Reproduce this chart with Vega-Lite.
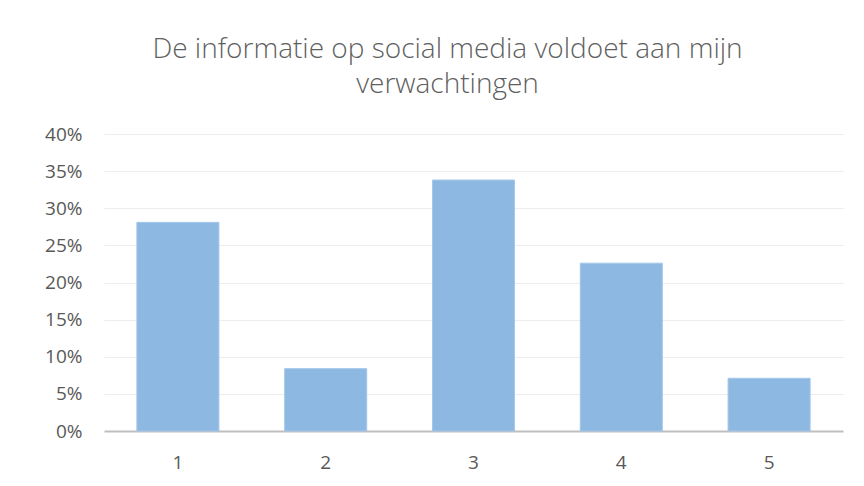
{
  "$schema": "https://vega.github.io/schema/vega-lite/v6.json",
  "width": 739,
  "height": 297,
  "autosize": {"type": "none"},
  "padding": {"left": 104, "top": 134, "right": 21, "bottom": 55},
  "background": "white",
  "title": {
    "text": ["De informatie op social media voldoet aan mijn", "verwachtingen"],
    "font": "Open Sans",
    "fontSize": 28,
    "fontWeight": 300,
    "color": "#5f5f5f",
    "lineHeight": 35,
    "anchor": "middle",
    "dx": -26,
    "offset": 26
  },
  "data": {
    "values": [
      {"k": "1", "v": 0.281},
      {"k": "2", "v": 0.084},
      {"k": "3", "v": 0.338},
      {"k": "4", "v": 0.226},
      {"k": "5", "v": 0.071}
    ]
  },
  "mark": {"type": "bar", "color": "#8DB8E2", "stroke": "#A3C7EA", "strokeWidth": 1},
  "encoding": {
    "x": {
      "field": "k",
      "type": "ordinal",
      "scale": {"paddingInner": 0.445, "paddingOuter": 0.2225},
      "axis": {
        "title": null,
        "labelAngle": 0,
        "labelFont": "Open Sans",
        "labelFontSize": 19,
        "labelColor": "#595959",
        "labelPadding": 22,
        "ticks": false,
        "domainColor": "#bfbfbf",
        "domainWidth": 2,
        "grid": false
      }
    },
    "y": {
      "field": "v",
      "type": "quantitative",
      "scale": {"domain": [0, 0.4]},
      "axis": {
        "title": null,
        "format": ".0%",
        "values": [0, 0.05, 0.1, 0.15, 0.2, 0.25, 0.3, 0.35, 0.4],
        "labelFont": "Open Sans",
        "labelFontSize": 19,
        "labelColor": "#595959",
        "labelPadding": 22,
        "ticks": false,
        "domain": false,
        "gridColor": "#ececec",
        "gridWidth": 1
      }
    }
  },
  "config": {"view": {"stroke": null}}
}
